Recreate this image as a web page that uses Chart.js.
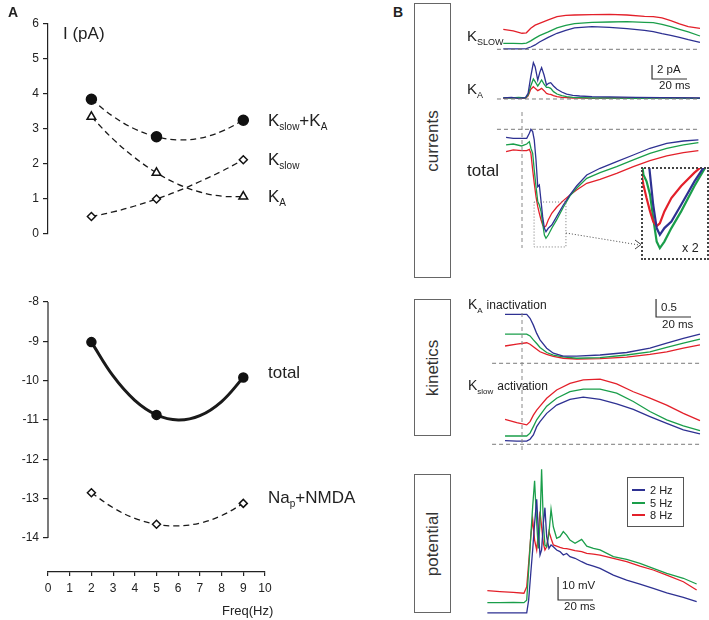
<!DOCTYPE html>
<html>
<head>
<meta charset="utf-8">
<script src="https://cdn.jsdelivr.net/npm/chart.js@4/dist/chart.umd.min.js"></script>
<style>
  body { margin: 0; background: #fff; width: 709px; height: 620px; position: relative; overflow: hidden;
         font-family: "Liberation Sans", Arial, sans-serif; color: #222; }
  .abs { position: absolute; }
  .lbl { position: absolute; white-space: nowrap; line-height: 1; transform: translateY(-50%); }
  .lbl sub { font-size: 10px; line-height: 0; vertical-align: -4px; }
  .box { position: absolute; border: 1px solid #666; box-sizing: border-box; }
  .vt { position: absolute; left: 50%; top: 50%; transform: translate(-50%, -50%) rotate(-90deg);
        font-size: 17px; color: #333; white-space: nowrap; }
</style>
</head>
<body>

<!-- panel A -->
<div class="abs" style="left:0;top:0"><canvas id="aTop" width="290" height="250"></canvas></div>
<div class="abs" style="left:0;top:250px"><canvas id="aBot" width="290" height="370"></canvas></div>
<div class="abs" style="left:8px;top:4px;font-weight:bold;font-size:14px">A</div>
<div class="lbl" style="left:63px;top:33px;font-size:17px">I (pA)</div>
<div class="lbl" style="left:268px;top:120px;font-size:17px">K<sub>slow</sub>+K<sub>A</sub></div>
<div class="lbl" style="left:268px;top:159px;font-size:17px">K<sub>slow</sub></div>
<div class="lbl" style="left:268px;top:196px;font-size:17px">K<sub>A</sub></div>
<div class="lbl" style="left:268px;top:372px;font-size:17px">total</div>
<div class="lbl" style="left:268px;top:497px;font-size:17px">Na<sub>p</sub>+NMDA</div>
<div class="lbl" style="left:222px;top:610px;font-size:13px">Freq(Hz)</div>

<!-- panel B -->
<div class="abs" style="left:480px;top:0"><canvas id="bMain" width="229" height="620"></canvas></div>
<div class="abs" style="left:642px;top:168px"><canvas id="bInset" width="64" height="89"></canvas></div>
<div class="abs" style="left:641px;top:167px;width:64px;height:89px;border:2px dotted #444"></div>
<div class="abs" style="left:393px;top:4px;font-weight:bold;font-size:14px">B</div>

<div class="box" style="left:414px;top:3px;width:37px;height:275px"><div class="vt">currents</div></div>
<div class="box" style="left:414px;top:299px;width:37px;height:137px"><div class="vt">kinetics</div></div>
<div class="box" style="left:414px;top:474px;width:37px;height:139px"><div class="vt">potential</div></div>

<div class="lbl" style="left:467px;top:35px;font-size:15px">K<sub style="font-size:9px">SLOW</sub></div>
<div class="lbl" style="left:467px;top:88px;font-size:15px">K<sub style="font-size:9px">A</sub></div>
<div class="lbl" style="left:467px;top:170px;font-size:17px">total</div>
<div class="lbl" style="left:468px;top:304px;font-size:14px">K<sub style="font-size:8px">A</sub> <span style="font-size:12px">inactivation</span></div>
<div class="lbl" style="left:468px;top:385px;font-size:14px">K<sub style="font-size:8px">slow</sub> <span style="font-size:12px">activation</span></div>

<div class="lbl" style="left:657px;top:70px;font-size:11.5px">2 pA</div>
<div class="lbl" style="left:659px;top:86px;font-size:11.5px">20 ms</div>
<div class="lbl" style="left:661px;top:308px;font-size:11.5px">0.5</div>
<div class="lbl" style="left:662px;top:325px;font-size:11.5px">20 ms</div>
<div class="lbl" style="left:562px;top:586px;font-size:11.5px">10 mV</div>
<div class="lbl" style="left:564px;top:607px;font-size:11.5px">20 ms</div>
<div class="lbl" style="left:682px;top:248px;font-size:12.5px">x 2</div>

<div class="box" style="left:627px;top:477px;width:57px;height:50px;border-color:#555"></div>
<div class="abs" style="left:632px;top:489px;width:13px;height:1.5px;background:#2e3192"></div>
<div class="abs" style="left:632px;top:502px;width:13px;height:1.5px;background:#1a9e4a"></div>
<div class="abs" style="left:632px;top:514px;width:13px;height:1.5px;background:#e3202a"></div>
<div class="lbl" style="left:650px;top:490px;font-size:11px">2 Hz</div>
<div class="lbl" style="left:650px;top:503px;font-size:11px">5 Hz</div>
<div class="lbl" style="left:650px;top:515px;font-size:11px">8 Hz</div>

<script>
// ---- panel A data ----
const freq = [2, 5, 9];
const kslowKa = [3.85, 2.78, 3.25];
const kslow = [0.5, 1.0, 2.12];
const ka = [3.35, 1.75, 1.07];
const total = [-9.02, -10.87, -9.92];
const napNmda = [-12.85, -13.65, -13.12];
// fitted curves at integer frequencies
const fitFreq = [2, 3, 4, 5, 6, 7, 8, 9];
const kslowKaFit = [3.85, 3.36, 3.0, 2.78, 2.69, 2.74, 2.93, 3.25];
const kslowFit = [0.5, 0.63, 0.8, 1.0, 1.23, 1.5, 1.79, 2.12];
const kaFit = [3.35, 2.71, 2.18, 1.75, 1.42, 1.2, 1.08, 1.07];
const totalFit = [-9.02, -9.88, -10.5, -10.87, -11.0, -10.89, -10.53, -9.92];
const napFit = [-12.85, -13.23, -13.5, -13.65, -13.69, -13.62, -13.43, -13.12];
const yTopTicks = [0, 1, 2, 3, 4, 5, 6];
const yBotTicks = [-14, -13, -12, -11, -10, -9, -8];
const xTicks = [0, 1, 2, 3, 4, 5, 6, 7, 8, 9, 10];

// ---- panel B data (time in ms, 0 = stimulus) ----
const ksT = [-10.7, -5, 0, 2.5, 5, 7.5, 10, 15, 20, 25, 30, 40, 50, 60, 70, 75, 80, 85, 90, 95, 101.7];
const ksBlue = [0.05, 0.05, 0.07, 0.1, 0.33, 0.62, 1.05, 1.71, 2.29, 2.71, 3.05, 3.24, 3.14, 2.95, 2.71, 2.52, 2.24, 2.0, 1.71, 1.38, 1.0];
const ksGreen = [0.86, 0.84, 0.81, 0.88, 1.2, 1.6, 1.95, 2.48, 3.07, 3.43, 3.67, 3.86, 3.9, 3.95, 3.86, 3.81, 3.57, 3.24, 2.86, 2.48, 1.9];
const ksRed = [2.86, 2.62, 2.29, 2.36, 3.0, 3.45, 3.7, 4.19, 4.67, 4.86, 4.9, 4.96, 5.0, 4.9, 4.71, 4.67, 4.48, 4.1, 3.62, 3.24, 3.0];

const kaT = [-10.7, -6, -2, 2, 3.5, 5, 6.5, 7.5, 9, 10.3, 11.2, 12.6, 14, 15.2, 16.4, 18, 20, 22.7, 25.5, 29, 33, 40, 50, 65, 80, 101.7];
const kaBlue = [0.14, 0.24, 0.1, 0.19, 0.81, 3.19, 5.19, 4.62, 2.71, 3.9, 4.48, 3.43, 2.0, 2.24, 2.33, 1.86, 1.38, 1.0, 0.71, 0.52, 0.43, 0.33, 0.29, 0.24, 0.19, 0.14];
const kaGreen = [0.19, 0.14, 0.24, 0.14, 0.57, 1.86, 2.86, 2.48, 1.86, 2.33, 2.71, 2.14, 1.67, 1.67, 1.52, 1.05, 0.71, 0.48, 0.33, 0.24, 0.19, 0.14, 0.14, 0.1, 0.14, 0.1];
const kaRed = [0.1, 0.19, 0.14, 0.1, 0.43, 1.38, 1.76, 1.52, 1.19, 1.38, 1.52, 1.19, 0.81, 0.71, 0.67, 0.48, 0.33, 0.24, 0.19, 0.14, 0.14, 0.1, 0.14, 0.14, 0.19, 0.1];

const totT = [-9.1, -5, -0.2, 2.7, 4.2, 5.1, 6.1, 7, 8, 9, 9.9, 10.9, 11.8, 12.8, 13.7, 15, 17, 19.8, 23.6, 27.4, 31.2, 37, 44.6, 54.1, 63.6, 73.1, 82.7, 92.2, 100.8];
const totBlue = [-1.14, -1.29, -1.29, -1.29, -0.57, 0, -0.33, -1.52, -4.38, -8.19, -7.95, -10.33, -12.48, -14.14, -14.62, -14.14, -13.67, -12.48, -10.81, -9.38, -8.1, -6.52, -5.57, -4.62, -3.67, -2.71, -2.0, -1.67, -1.52];
const totGreen = [-2.24, -2.1, -2.38, -2.1, -1.76, -2.71, -3.43, -5.81, -8.19, -10.33, -10.81, -11.76, -13.43, -15.1, -15.57, -15.1, -14.14, -12.95, -11.14, -9.52, -8.43, -7.0, -6.19, -5.33, -4.38, -3.43, -2.71, -2.24, -1.9];
const totRed = [-3.19, -2.95, -3.05, -3.05, -2.86, -3.43, -5.81, -7.71, -9.62, -11.05, -12.0, -12.95, -13.67, -14.0, -13.81, -12.95, -12.0, -11.14, -10.19, -9.38, -8.67, -7.71, -7.14, -6.29, -5.33, -4.48, -3.81, -3.33, -3.05];

const kiT = [-9.7, -3.0, 2.7, 4.6, 6.5, 8.4, 10.3, 14.1, 17.9, 23.6, 31.2, 44.6, 59.8, 73.1, 82.7, 92.2, 101.7];
const kaiBlue = [1.36, 1.36, 1.36, 1.25, 1.06, 0.83, 0.65, 0.42, 0.28, 0.2, 0.2, 0.23, 0.3, 0.42, 0.56, 0.69, 0.81];
const kaiGreen = [0.81, 0.81, 0.81, 0.76, 0.65, 0.55, 0.44, 0.3, 0.23, 0.18, 0.14, 0.16, 0.23, 0.32, 0.44, 0.56, 0.67];
const kaiRed = [0.48, 0.53, 0.57, 0.53, 0.46, 0.39, 0.32, 0.25, 0.19, 0.14, 0.12, 0.13, 0.17, 0.25, 0.32, 0.42, 0.51];

const ksaT = [-9.7, -3.0, 2.7, 4.6, 6.5, 8.4, 10.3, 14.1, 19.8, 27.4, 35.0, 44.6, 54.1, 63.6, 73.1, 82.7, 92.2, 101.7];
const ksaBlue = [0.1, 0.09, 0.09, 0.14, 0.26, 0.49, 0.63, 0.86, 1.09, 1.25, 1.31, 1.25, 1.12, 0.97, 0.77, 0.58, 0.4, 0.29];
const ksaGreen = [0.23, 0.23, 0.23, 0.31, 0.49, 0.68, 0.81, 1.06, 1.28, 1.46, 1.53, 1.53, 1.42, 1.19, 0.91, 0.68, 0.51, 0.38];
const ksaRed = [0.69, 0.6, 0.54, 0.63, 0.81, 0.95, 1.06, 1.28, 1.51, 1.69, 1.79, 1.81, 1.68, 1.46, 1.28, 1.09, 0.86, 0.66];

const vT = [-19.8, -12.6, -5.0, 1.1, 2.7, 3.8, 5.0, 6.1, 7.2, 8.4, 9.3, 10.3, 11.2, 12.2, 13.1, 14.1, 15.4, 16.6, 17.9, 19.8, 21.7, 23.6, 25.5, 27.4, 30.3, 34.1, 37.0, 40.8, 44.6, 52.2, 59.8, 67.4, 75.0, 82.7, 92.2, 99.8];
const vBlue = [-69.9, -69.9, -69.9, -69.9, -69.9, -64.4, -52.8, -42.6, -31.0, -20.6, -33.9, -44.8, -42.6, -31.0, -24.2, -36.8, -41.9, -40.4, -41.2, -42.6, -43.3, -44.8, -44.1, -45.5, -46.2, -47.7, -48.7, -49.6, -50.6, -53.5, -55.7, -57.4, -59.3, -61.2, -63.2, -65.1];
const vGreen = [-65.5, -65.5, -65.4, -65.5, -64.4, -51.3, -36.8, -23.8, -12.5, -31.0, -41.9, -31.0, -7.5, -31.0, -40.4, -41.2, -35.4, -24.9, -32.5, -37.5, -36.8, -34.6, -36.1, -38.3, -39.7, -38.0, -40.9, -41.9, -42.6, -45.5, -46.7, -48.4, -50.6, -52.8, -54.9, -57.4];
const vRed = [-60.3, -60.7, -61.0, -61.4, -58.6, -48.4, -36.8, -29.3, -38.3, -42.6, -35.4, -25.9, -32.5, -39.7, -42.6, -41.2, -34.6, -37.5, -40.4, -40.9, -41.5, -41.9, -42.0, -42.3, -42.9, -43.3, -44.1, -44.4, -44.8, -46.2, -47.7, -49.6, -51.3, -53.5, -56.4, -60.0];

const curBaseT = [-14.3, 101.7];
const kinBaseT = [-17.1, 102.9];
const zoomBoxT = [6.9, 25.1];
const zoomBoxV = [-10.39, -16.81];
const insetT = [8.6, 26.9];
const insetV = [-16.2, -9.86];

const BLUE = '#2e3192', GREEN = '#1a9e4a', RED = '#e3202a';

Chart.defaults.font.family = '"Liberation Sans", Arial, sans-serif';
Chart.defaults.color = '#222';

const pts = (xs, ys) => xs.map((x, i) => ({ x: x, y: ys[i] }));

function fitDs(ys, dash, width) {
  return { data: pts(fitFreq, ys), borderColor: '#1a1a1a', borderWidth: width || 1.3, borderDash: dash,
           pointRadius: 0, tension: 0.4, fill: false, clip: false };
}
function markDs(ys, style, r, fill) {
  return { data: pts(freq, ys), showLine: false, pointStyle: style, pointRadius: r,
           pointBackgroundColor: fill, pointBorderColor: '#111', pointBorderWidth: 1.5, clip: false };
}

const noPlug = { legend: { display: false }, tooltip: { enabled: false } };

new Chart(document.getElementById('aTop'), {
  type: 'line',
  data: { datasets: [
    markDs(kslowKa, 'circle', 5, '#111'),
    markDs(kslow, 'rectRot', 4, '#fff'),
    markDs(ka, 'triangle', 5, '#fff'),
    fitDs(kslowKaFit, [6, 4]),
    fitDs(kslowFit, [6, 4]),
    fitDs(kaFit, [6, 4])
  ] },
  options: {
    responsive: false, animation: false,
    layout: { padding: { top: 24, bottom: 16, left: 0, right: 25 } },
    plugins: noPlug,
    scales: {
      x: { type: 'linear', min: 0, max: 10, display: false },
      y: { min: 0, max: 6,
           afterBuildTicks: s => { s.ticks = yTopTicks.map(v => ({ value: v })); },
           ticks: { font: { size: 12 }, padding: 4, color: '#222' },
           grid: { drawOnChartArea: false, tickLength: 5, color: '#222', lineWidth: 1.2 },
           border: { color: '#222', width: 1.2 },
           afterFit: s => { s.width = 48; } }
    }
  }
});

const yLine = {
  id: 'yLine',
  afterDraw(chart) {
    const s = chart.scales.y, ctx = chart.ctx, x = chart.chartArea.left;
    ctx.save();
    ctx.strokeStyle = '#222';
    ctx.lineWidth = 1.2;
    ctx.beginPath();
    ctx.moveTo(x, s.getPixelForValue(yBotTicks[yBotTicks.length - 1]));
    ctx.lineTo(x, s.getPixelForValue(yBotTicks[0]));
    ctx.stroke();
    ctx.restore();
  }
};

new Chart(document.getElementById('aBot'), {
  type: 'line',
  data: { datasets: [
    markDs(total, 'circle', 4.5, '#111'),
    markDs(napNmda, 'rectRot', 4, '#fff'),
    fitDs(totalFit, [], 3),
    fitDs(napFit, [6, 4])
  ] },
  options: {
    responsive: false, animation: false,
    layout: { padding: { top: 52, bottom: 0, left: 0, right: 25 } },
    plugins: noPlug,
    scales: {
      x: { type: 'linear', min: 0, max: 10,
           afterBuildTicks: s => { s.ticks = xTicks.map(v => ({ value: v })); },
           ticks: { font: { size: 12 }, padding: 5, color: '#222', maxRotation: 0 },
           grid: { drawOnChartArea: false, tickLength: 4, color: '#222', lineWidth: 1.2 },
           border: { color: '#222', width: 1.2 },
           afterFit: s => { s.height = 48; } },
      y: { min: -14.864, max: -8,
           afterBuildTicks: s => { s.ticks = yBotTicks.map(v => ({ value: v })); },
           ticks: { font: { size: 12 }, padding: 4, color: '#222' },
           grid: { drawOnChartArea: false, tickLength: 5, color: '#222', lineWidth: 1.2 },
           border: { display: false },
           afterFit: s => { s.width = 48; } }
    }
  },
  plugins: [yLine]
});

// ---- panel B ----
function trace(xs, ys, color, axis, width) {
  return { data: pts(xs, ys), yAxisID: axis, borderColor: color, borderWidth: width || 1.3,
           pointRadius: 0, fill: false, tension: 0 };
}
function baseline(xs, axis) {
  return { data: pts(xs, [0, 0]), yAxisID: axis, borderColor: '#7a7a7a', borderWidth: 1,
           borderDash: [4, 3], pointRadius: 0, fill: false };
}
const hid = (min, max) => ({ type: 'linear', display: false, min: min, max: max });

function seg(ctx, x1, y1, x2, y2) {
  ctx.beginPath(); ctx.moveTo(x1, y1); ctx.lineTo(x2, y2); ctx.stroke();
}

const decorB = {
  id: 'decorB',
  afterDatasetsDraw(chart) {
    const ctx = chart.ctx, s = chart.scales;
    const X = v => s.x.getPixelForValue(v);
    ctx.save();
    // stimulus markers
    ctx.strokeStyle = '#888'; ctx.lineWidth = 1; ctx.setLineDash([4, 3]);
    const x0 = X(0);
    seg(ctx, x0, 112, x0, 248);
    seg(ctx, x0, 313, x0, 452);
    // zoom box + arrow
    ctx.strokeStyle = '#777'; ctx.setLineDash([1, 2]);
    const bx1 = X(zoomBoxT[0]), bx2 = X(zoomBoxT[1]);
    const by1 = s.yTot.getPixelForValue(zoomBoxV[0]), by2 = s.yTot.getPixelForValue(zoomBoxV[1]);
    ctx.strokeRect(bx1, by1, bx2 - bx1, by2 - by1);
    ctx.strokeStyle = '#444';
    seg(ctx, bx2, 233, 159, 245);
    ctx.setLineDash([]);
    ctx.beginPath(); ctx.moveTo(155, 240); ctx.lineTo(161, 244.5); ctx.lineTo(155, 249); ctx.stroke();
    // scale bars
    ctx.strokeStyle = '#333'; ctx.lineWidth = 1.2;
    const bar = (t, len, ax, v, h) => {
      const a = s[ax];
      ctx.beginPath();
      ctx.moveTo(X(t), a.getPixelForValue(v + h));
      ctx.lineTo(X(t), a.getPixelForValue(v));
      ctx.lineTo(X(t + len), a.getPixelForValue(v));
      ctx.stroke();
    };
    bar(74.3, 20, 'yKa', 2.86, 2);
    bar(76.6, 20, 'yKai', 1.286, 0.5);
    bar(20.6, 20, 'yV', -64.35, 10);
    ctx.restore();
  }
};

new Chart(document.getElementById('bMain'), {
  type: 'line',
  data: { datasets: [
    baseline(curBaseT, 'yKs'), baseline(curBaseT, 'yKa'), baseline(curBaseT, 'yTot'),
    baseline(kinBaseT, 'yKai'), baseline(kinBaseT, 'yKsa'),
    trace(ksT, ksBlue, BLUE, 'yKs'), trace(ksT, ksGreen, GREEN, 'yKs'), trace(ksT, ksRed, RED, 'yKs'),
    trace(kaT, kaBlue, BLUE, 'yKa'), trace(kaT, kaGreen, GREEN, 'yKa'), trace(kaT, kaRed, RED, 'yKa'),
    trace(totT, totBlue, BLUE, 'yTot'), trace(totT, totGreen, GREEN, 'yTot'), trace(totT, totRed, RED, 'yTot'),
    trace(kiT, kaiBlue, BLUE, 'yKai'), trace(kiT, kaiGreen, GREEN, 'yKai'), trace(kiT, kaiRed, RED, 'yKai'),
    trace(ksaT, ksaBlue, BLUE, 'yKsa'), trace(ksaT, ksaGreen, GREEN, 'yKsa'), trace(ksaT, ksaRed, RED, 'yKsa'),
    trace(vT, vBlue, BLUE, 'yV'), trace(vT, vGreen, GREEN, 'yV'), trace(vT, vRed, RED, 'yV')
  ] },
  options: {
    responsive: false, animation: false,
    plugins: noPlug,
    scales: {
      x: hid(-24, 106.857),
      yKs: hid(-81.53, 7.043),
      yKa: hid(-74.43, 14.143),
      yTot: hid(-70.1, 18.471),
      yKai: hid(-7.131, 10.092),
      yKsa: hid(-4.881, 12.342),
      yV: hid(-73.04, 196.52)
    }
  },
  plugins: [decorB]
});

new Chart(document.getElementById('bInset'), {
  type: 'line',
  data: { datasets: [
    trace(totT, totBlue, BLUE, 'y', 2.2), trace(totT, totRed, RED, 'y', 2.2), trace(totT, totGreen, GREEN, 'y', 2.2)
  ] },
  options: {
    responsive: false, animation: false,
    plugins: noPlug,
    scales: { x: hid(insetT[0], insetT[1]), y: hid(insetV[0], insetV[1]) }
  }
});
</script>
</body>
</html>
